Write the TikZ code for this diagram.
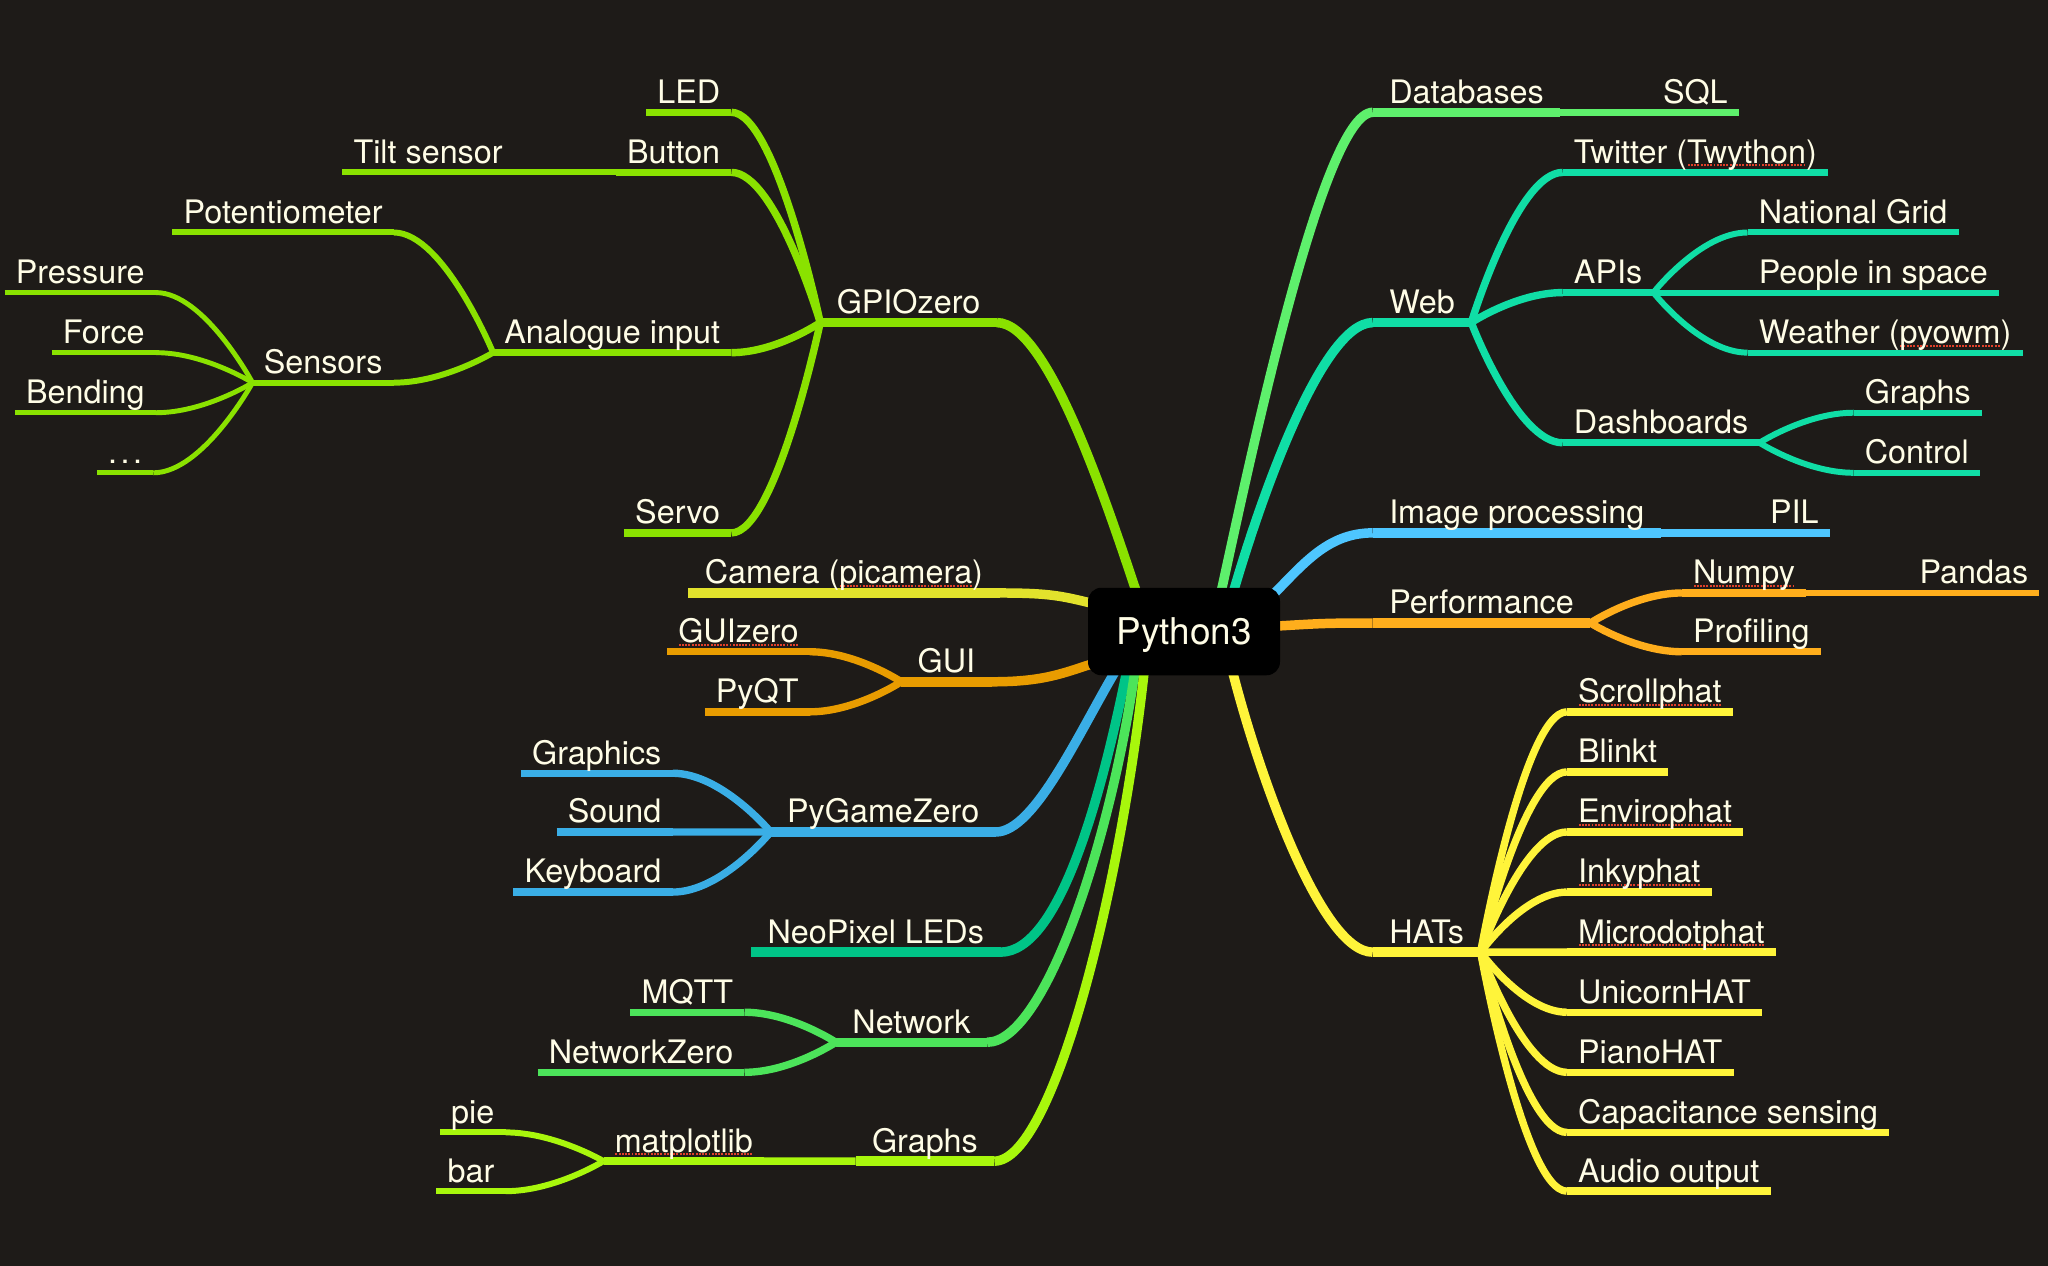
\documentclass[tikz,border=0pt]{standalone}
\usepackage{fontspec}
\setmainfont{TeX Gyre Heros}
\usetikzlibrary{calc}
\definecolor{bgc}{HTML}{1E1B18}
\definecolor{txtc}{HTML}{FFFDE6}
\definecolor{sqred}{HTML}{E0402A}
\definecolor{cGpio}{HTML}{8AE200}
\definecolor{cCam}{HTML}{E2E22C}
\definecolor{cGui}{HTML}{E89C00}
\definecolor{cPgz}{HTML}{3AAEE6}
\definecolor{cNeo}{HTML}{00C487}
\definecolor{cNet}{HTML}{4CE45A}
\definecolor{cGra}{HTML}{A8F70C}
\definecolor{cDb}{HTML}{5EF06C}
\definecolor{cWeb}{HTML}{10DEA6}
\definecolor{cImg}{HTML}{4EC6FF}
\definecolor{cPerf}{HTML}{FFAE1C}
\definecolor{cHat}{HTML}{FFF43A}
\newcommand\mmfont{\fontsize{9.2}{11}\selectfont}
\newcommand\spellmark[1]{\leavevmode\setbox0=\hbox{#1}\rlap{\raisebox{-0.9pt}{\color{sqred}\hbox to \wd0{\xleaders\hbox to 0.9pt{\hss\rule{0.55pt}{0.6pt}\hss}\hfil}}}\box0}
\newcommand\mmlink[3]{\draw[#1] (#2) .. controls (#2) and ($(#3)!0.5!(#2 |- #3)$) .. (#3);}
\newcommand\mmul[2]{\draw[#1] (#2.south west) -- (#2.south east);}
\pgfdeclarelayer{backdrop}
\pgfdeclarelayer{wires}
\pgfsetlayers{backdrop,wires,main}
\begin{document}
\begin{tikzpicture}[x=0.013061cm,y=-0.013061cm,line cap=round,
 lbl/.style={font=\mmfont,text=txtc,inner xsep=3pt,inner ysep=0pt,text height=7pt,text depth=2.4pt},
 topn/.style={lbl,inner xsep=4.5pt},
 wA/.style={line width=2.7pt},wB/.style={line width=2.1pt},
 wC/.style={line width=1.7pt},wD/.style={line width=1.4pt}]
\useasboundingbox (0,0) rectangle (1568,969);
\begin{pgfonlayer}{backdrop}
\fill[bgc] (0,0) rectangle (1568,969);
\end{pgfonlayer}

\node[fill=black,rounded corners=3.8pt,minimum width=1.92cm,minimum height=0.875cm,inner sep=0pt,text=txtc,text height=7.6pt,text depth=0pt,font=\fontsize{10.5}{12}\selectfont] (root) at (906.5,483.5) {Python3};

% ---------- left side ----------
\node[topn,anchor=south west] (gpio) at (628,247) {GPIOzero};
\node[lbl,anchor=south east] (led) at ($(gpio.south west |- 0,86)+(-68,0)$) {LED};
\node[lbl,anchor=south east] (button) at ($(gpio.south west |- 0,132)+(-68,0)$) {Button};
\node[lbl,anchor=south east] (tilt) at ($(button.south west)+(-78,0)$) {Tilt sensor};
\node[lbl,anchor=south east] (analog) at ($(gpio.south west |- 0,270)+(-68,0)$) {Analogue input};
\node[lbl,anchor=south east] (pot) at ($(analog.south west |- 0,178)+(-76,0)$) {Potentiometer};
\node[lbl,anchor=south east] (sensors) at ($(analog.south west |- 0,293)+(-76,0)$) {Sensors};
\node[lbl,anchor=south east] (pressure) at ($(sensors.south west |- 0,224)+(-74,0)$) {Pressure};
\node[lbl,anchor=south east] (force) at ($(sensors.south west |- 0,270)+(-74,0)$) {Force};
\node[lbl,anchor=south east] (bending) at ($(sensors.south west |- 0,316)+(-74,0)$) {Bending};
\node[lbl,anchor=south east] (etc) at ($(sensors.south west |- 0,362)+(-76,0)$) {.\kern1pt.\kern1pt.\hspace{14pt}};
\node[lbl,anchor=south east] (servo) at ($(gpio.south west |- 0,408)+(-68,0)$) {Servo};

\node[topn,anchor=south west] (cam) at (527,454) {Camera (\spellmark{picamera})};
\node[topn,anchor=south west] (gui) at (690,522) {GUI};
\node[lbl,anchor=south east] (guizero) at ($(gui.south west |- 0,499)+(-70,0)$) {\spellmark{GUIzero}};
\node[lbl,anchor=south east] (pyqt) at ($(gui.south west |- 0,545)+(-70,0)$) {PyQT};

\node[topn,anchor=south west] (pgz) at (590,637) {PyGameZero};
\node[lbl,anchor=south east] (graphics) at ($(pgz.south west |- 0,592)+(-75,0)$) {Graphics};
\node[lbl,anchor=south east] (sound) at ($(pgz.south west |- 0,637)+(-75,0)$) {Sound};
\node[lbl,anchor=south east] (keyboard) at ($(pgz.south west |- 0,683)+(-75,0)$) {Keyboard};

\node[topn,anchor=south west] (neo) at (575,729) {NeoPixel LEDs};

\node[topn,anchor=south west] (net) at (640,798) {Network};
\node[lbl,anchor=south east] (mqtt) at ($(net.south west |- 0,775)+(-70,0)$) {MQTT};
\node[lbl,anchor=south east] (nz) at ($(net.south west |- 0,821)+(-70,0)$) {NetworkZero};

\node[topn,anchor=south west] (graphs) at (655,889) {Graphs};
\node[lbl,anchor=south east] (mpl) at ($(graphs.south west)+(-70,0)$) {\spellmark{matplotlib}};
\node[lbl,anchor=south east] (pie) at ($(mpl.south west |- 0,867)+(-75,0)$) {pie};
\node[lbl,anchor=south east] (bar) at ($(mpl.south west |- 0,912)+(-75,0)$) {bar};

% ---------- right side ----------
\node[topn,anchor=south west] (db) at (1051,86) {Databases};
\node[lbl,anchor=south west] (sql) at ($(db.south east)+(70,0)$) {SQL};

\node[topn,anchor=south west] (web) at (1051,247) {Web};
\node[lbl,anchor=south west] (twit) at ($(web.south east |- 0,132)+(70,0)$) {Twitter (\spellmark{Twython})};
\node[lbl,anchor=south west] (apis) at ($(web.south east |- 0,224)+(70,0)$) {APIs};
\node[lbl,anchor=south west] (ngrid) at ($(apis.south east |- 0,178)+(72,0)$) {National Grid};
\node[lbl,anchor=south west] (space) at ($(apis.south east |- 0,224)+(72,0)$) {People in space};
\node[lbl,anchor=south west] (weather) at ($(apis.south east |- 0,270)+(72,0)$) {Weather (\spellmark{pyowm})};
\node[lbl,anchor=south west] (dash) at ($(web.south east |- 0,339)+(70,0)$) {Dashboards};
\node[lbl,anchor=south west] (dgraphs) at ($(dash.south east |- 0,316)+(72,0)$) {Graphs};
\node[lbl,anchor=south west] (control) at ($(dash.south east |- 0,362)+(72,0)$) {Control};

\node[topn,anchor=south west] (img) at (1051,408) {Image processing};
\node[lbl,anchor=south west] (pil) at ($(img.south east)+(75,0)$) {PIL};

\node[topn,anchor=south west] (perf) at (1051,477) {Performance};
\node[lbl,anchor=south west] (numpy) at ($(perf.south east |- 0,454)+(70,0)$) {\spellmark{Numpy}};
\node[lbl,anchor=south west] (pandas) at ($(numpy.south east)+(78,0)$) {Pandas};
\node[lbl,anchor=south west] (prof) at ($(perf.south east |- 0,499)+(70,0)$) {Profiling};

\node[topn,anchor=south west] (hats) at (1051,729) {HATs};
\node[lbl,anchor=south west] (h1) at ($(hats.south east |- 0,545)+(66,0)$) {\spellmark{Scrollphat}};
\node[lbl,anchor=south west] (h2) at ($(hats.south east |- 0,591)+(66,0)$) {Blinkt};
\node[lbl,anchor=south west] (h3) at ($(hats.south east |- 0,637)+(66,0)$) {\spellmark{Envirophat}};
\node[lbl,anchor=south west] (h4) at ($(hats.south east |- 0,683)+(66,0)$) {\spellmark{Inkyphat}};
\node[lbl,anchor=south west] (h5) at ($(hats.south east |- 0,729)+(66,0)$) {\spellmark{Microdotphat}};
\node[lbl,anchor=south west] (h6) at ($(hats.south east |- 0,775)+(66,0)$) {UnicornHAT};
\node[lbl,anchor=south west] (h7) at ($(hats.south east |- 0,821)+(66,0)$) {PianoHAT};
\node[lbl,anchor=south west] (h8) at ($(hats.south east |- 0,867)+(66,0)$) {Capacitance sensing};
\node[lbl,anchor=south west] (h9) at ($(hats.south east |- 0,912)+(66,0)$) {Audio output};

\begin{pgfonlayer}{wires}
% GPIOzero
\draw[wA,cGpio] ($(root.north)+(-35,8)$) .. controls +(-22,-65) and +(40,0) .. (gpio.south east);
\mmul{wA,cGpio}{gpio}
\mmlink{wB,cGpio}{gpio.south west}{led.south east} \mmul{wB,cGpio}{led}
\mmlink{wB,cGpio}{gpio.south west}{button.south east} \mmul{wB,cGpio}{button}
\mmlink{wC,cGpio}{button.south west}{tilt.south east} \mmul{wC,cGpio}{tilt}
\mmlink{wB,cGpio}{gpio.south west}{analog.south east} \mmul{wB,cGpio}{analog}
\mmlink{wC,cGpio}{analog.south west}{pot.south east} \mmul{wC,cGpio}{pot}
\mmlink{wC,cGpio}{analog.south west}{sensors.south east} \mmul{wC,cGpio}{sensors}
\mmlink{wD,cGpio}{sensors.south west}{pressure.south east} \mmul{wD,cGpio}{pressure}
\mmlink{wD,cGpio}{sensors.south west}{force.south east} \mmul{wD,cGpio}{force}
\mmlink{wD,cGpio}{sensors.south west}{bending.south east} \mmul{wD,cGpio}{bending}
\mmlink{wD,cGpio}{sensors.south west}{etc.south east} \mmul{wD,cGpio}{etc}
\mmlink{wB,cGpio}{gpio.south west}{servo.south east} \mmul{wB,cGpio}{servo}
% Camera
\draw[wA,cCam] ($(root.west)+(6,-21)$) .. controls +(-25,-6) and +(40,0) .. (cam.south east);
\mmul{wA,cCam}{cam}
% GUI
\draw[wA,cGui] ($(root.west)+(6,24)$) .. controls +(-25,8) and +(40,0) .. (gui.south east);
\mmul{wA,cGui}{gui}
\mmlink{wB,cGui}{gui.south west}{guizero.south east} \mmul{wB,cGui}{guizero}
\mmlink{wB,cGui}{gui.south west}{pyqt.south east} \mmul{wB,cGui}{pyqt}
% PyGameZero
\draw[wA,cPgz] ($(root.south)+(-50,-8)$) .. controls +(-30,50) and +(30,0) .. (pgz.south east);
\mmul{wA,cPgz}{pgz}
\mmlink{wB,cPgz}{pgz.south west}{graphics.south east} \mmul{wB,cPgz}{graphics}
\mmlink{wB,cPgz}{pgz.south west}{sound.south east} \mmul{wB,cPgz}{sound}
\mmlink{wB,cPgz}{pgz.south west}{keyboard.south east} \mmul{wB,cPgz}{keyboard}
% NeoPixel
\draw[wA,cNeo] ($(root.south)+(-43,-8)$) .. controls +(-20,100) and +(45,0) .. (neo.south east);
\mmul{wA,cNeo}{neo}
% Network
\draw[wA,cNet] ($(root.south)+(-37,-8)$) .. controls +(-18,130) and +(45,0) .. (net.south east);
\mmul{wA,cNet}{net}
\mmlink{wB,cNet}{net.south west}{mqtt.south east} \mmul{wB,cNet}{mqtt}
\mmlink{wB,cNet}{net.south west}{nz.south east} \mmul{wB,cNet}{nz}
% Graphs
\draw[wA,cGra] ($(root.south)+(-30,-8)$) .. controls +(-18,170) and +(45,0) .. (graphs.south east);
\mmul{wA,cGra}{graphs}
\mmlink{wB,cGra}{graphs.south west}{mpl.south east} \mmul{wB,cGra}{mpl}
\mmlink{wC,cGra}{mpl.south west}{pie.south east} \mmul{wC,cGra}{pie}
\mmlink{wC,cGra}{mpl.south west}{bar.south east} \mmul{wC,cGra}{bar}
% Databases
\draw[wA,cDb] ($(root.north)+(27,10)$) .. controls +(18,-80) and +(-40,0) .. (db.south west);
\mmul{wA,cDb}{db}
\mmlink{wB,cDb}{db.south east}{sql.south west} \mmul{wB,cDb}{sql}
% Web
\draw[wA,cWeb] ($(root.north)+(36,10)$) .. controls +(20,-70) and +(-40,0) .. (web.south west);
\mmul{wA,cWeb}{web}
\mmlink{wB,cWeb}{web.south east}{twit.south west} \mmul{wB,cWeb}{twit}
\mmlink{wB,cWeb}{web.south east}{apis.south west} \mmul{wB,cWeb}{apis}
\mmlink{wC,cWeb}{apis.south east}{ngrid.south west} \mmul{wC,cWeb}{ngrid}
\mmlink{wC,cWeb}{apis.south east}{space.south west} \mmul{wC,cWeb}{space}
\mmlink{wC,cWeb}{apis.south east}{weather.south west} \mmul{wC,cWeb}{weather}
\mmlink{wB,cWeb}{web.south east}{dash.south west} \mmul{wB,cWeb}{dash}
\mmlink{wC,cWeb}{dash.south east}{dgraphs.south west} \mmul{wC,cWeb}{dgraphs}
\mmlink{wC,cWeb}{dash.south east}{control.south west} \mmul{wC,cWeb}{control}
% Image processing
\draw[wA,cImg] ($(root.north east)+(-8,8)$) .. controls +(25,-25) and +(-35,0) .. (img.south west);
\mmul{wA,cImg}{img}
\mmlink{wB,cImg}{img.south east}{pil.south west} \mmul{wB,cImg}{pil}
% Performance
\draw[wA,cPerf] ($(root.east)+(-6,-4)$) .. controls +(35,-2) and +(-40,0) .. (perf.south west);
\mmul{wA,cPerf}{perf}
\mmlink{wB,cPerf}{perf.south east}{numpy.south west} \mmul{wB,cPerf}{numpy}
\mmlink{wC,cPerf}{numpy.south east}{pandas.south west} \mmul{wC,cPerf}{pandas}
\mmlink{wB,cPerf}{perf.south east}{prof.south west} \mmul{wB,cPerf}{prof}
% HATs
\draw[wA,cHat] ($(root.south)+(36,-8)$) .. controls +(20,80) and +(-40,0) .. (hats.south west);
\mmul{wA,cHat}{hats}
\foreach \h in {h1,h2,h3,h4,h5,h6,h7,h8,h9}{
  \mmlink{wB,cHat}{hats.south east}{\h.south west} \mmul{wB,cHat}{\h}
}
\end{pgfonlayer}
\end{tikzpicture}
\end{document}
